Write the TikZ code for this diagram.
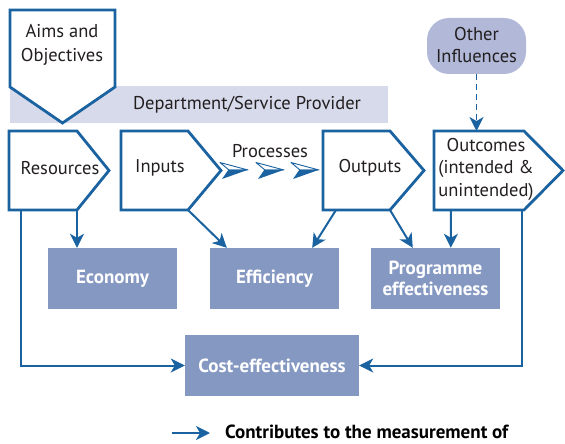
\documentclass[tikz,border=0pt]{standalone}
\usepackage{fontspec}
\setmainfont{PT Sans}
\usetikzlibrary{arrows.meta,calc}
\definecolor{navy}{HTML}{1A62A0}
\definecolor{boxfill}{HTML}{8598C2}
\definecolor{band}{HTML}{D6DAEB}
\definecolor{otherfill}{HTML}{B1B8D8}
\definecolor{ink}{HTML}{231F20}
\tikzset{
  body/.style={draw=none,inner sep=0pt,outer sep=0pt},
  penta/.style={draw=navy,fill=white,line width=2.8pt,line join=miter},
  lbl/.style={text=ink,font=\fontsize{18.5}{23}\selectfont,align=center,inner sep=0pt},
  measure/.style={fill=boxfill,draw=none,inner sep=0pt,minimum height=61pt,text=white,font=\bfseries\fontsize{19}{21}\selectfont,align=center},
  conn/.style={draw=navy,line width=2pt,-{Stealth[length=14pt,width=14pt,inset=4pt]}},
}
\begin{document}
\begin{tikzpicture}[x=1pt,y=-1pt]
\useasboundingbox (0,0) rectangle (565,444);
% band
\node[fill=band,inner sep=0pt,minimum width=378pt,minimum height=37pt] (dept) at (199,104.5) {};
\node[lbl] (deptt) at (247,105) {Department/Service Provider};
% aims
\node[body,minimum width=105pt,minimum height=77pt] (aims) at (62.5,48.5) {};
\draw[penta] (aims.north west) -- (aims.north east) -- (aims.south east) -- ($(aims.south)+(0,36)$) -- (aims.south west) -- cycle;
\node[lbl,font=\fontsize{18.5}{24}\selectfont] (aimst) at (62,45) {Aims and\\Objectives};
% pentagons
\node[body,minimum width=68pt,minimum height=79pt] (res) at (43,170.5) {};
\draw[penta] (res.north west) -- (res.north east) -- ($(res.east)+(32,0)$) -- (res.south east) -- (res.south west) -- cycle;
\node[lbl] (rest) at (60,168) {Resources};
\node[body,minimum width=67pt,minimum height=79pt] (inp) at (154.5,170.5) {};
\draw[penta] (inp.north west) -- (inp.north east) -- ($(inp.east)+(33,0)$) -- (inp.south east) -- (inp.south west) -- cycle;
\node[lbl] (inpt) at (160,168) {Inputs};
\node[body,minimum width=67pt,minimum height=79pt] (outp) at (356.5,170.5) {};
\draw[penta] (outp.north west) -- (outp.north east) -- ($(outp.east)+(34,0)$) -- (outp.south east) -- (outp.south west) -- cycle;
\node[lbl] (outpt) at (370,168) {Outputs};
\node[body,minimum width=90pt,minimum height=79pt] (outc) at (479,170.5) {};
\draw[penta] (outc.north west) -- (outc.north east) -- ($(outc.east)+(39,0)$) -- (outc.south east) -- (outc.south west) -- cycle;
\node[lbl,font=\fontsize{18.5}{22.5}\selectfont] (outct) at (486,169) {Outcomes\\(intended \&\\unintended)};
% processes
\node[lbl] (proc) at (270,151) {Processes};
\foreach \x in {220,256,291}{
  \filldraw[draw=navy,fill=white,line width=0.9pt,line join=round] (\x,162.5) -- (\x+28,170) -- (\x+9,170) -- cycle;
  \fill[navy] (\x+8.5,169.6) -- (\x+28.5,169.6) -- (\x+2,179) -- cycle;
}
% other influences
\node[fill=otherfill,rounded corners=22pt,minimum width=99pt,minimum height=56pt,inner sep=0pt] (oth) at (476.5,46) {};
\node[lbl,font=\fontsize{18.5}{22}\selectfont] (otht) at (476.5,45) {Other\\Influences};
\draw[conn,dashed,dash pattern=on 6pt off 4pt,line width=1.5pt] (oth.south) -- (oth.south |- outc.north);
% measure boxes
\node[measure,minimum width=129pt] (eco) at (112.5,278.5) {Economy};
\node[measure,minimum width=129pt] (eff) at (274.5,278.5) {Efficiency};
\node[measure,minimum width=129pt] (prog) at (435.5,278.5) {Programme\\effectiveness};
\node[measure,minimum width=174pt] (cost) at (272,365.5) {Cost-effectiveness};
% connectors
\draw[conn] (res.south east) -- (res.south east |- eco.north);
\draw[conn] (res.south west) ++(12,0) coordinate (resl) (resl) |- (cost.west);
\draw[conn] (inp.south east) -- ($(eff.north west)+(17,0)$);
\draw[conn] ($(outp.south west)+(13,0)$) -- ($(eff.north east)+(-27,0)$);
\draw[conn] (outp.south east) -- ($(prog.north west)+(42,0)$);
\draw[conn] ($(outc.south west)+(17,0)$) -- ($(prog.north west)+(80,0)$);
\draw[conn] ($(outc.south east)+(-2,0)$) |- (cost.east);
% legend
\coordinate (legs) at (172,433);
\node[anchor=west,inner sep=0pt,text=black,font=\bfseries\fontsize{19}{22}\selectfont] (legt) at (225,432) {Contributes to the measurement of};
\draw[conn] (legs) -- (210,433);
\end{tikzpicture}
\end{document}
